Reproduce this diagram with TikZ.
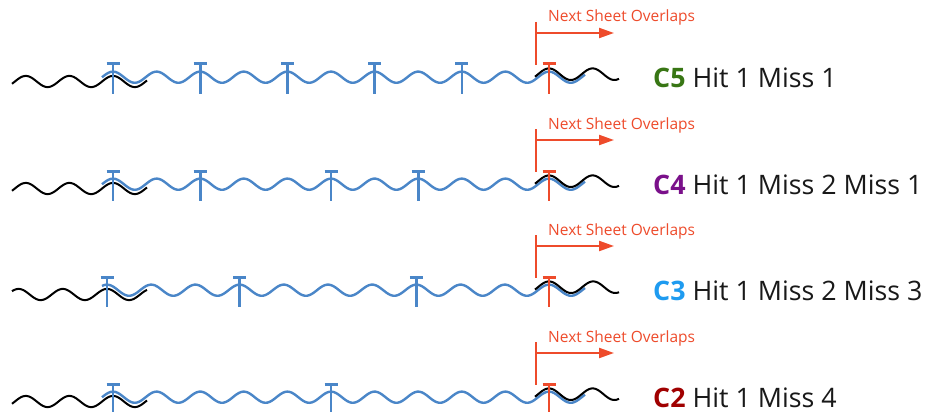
\documentclass[tikz,border=0pt]{standalone}
\usepackage{fontspec}
\setmainfont{Open Sans}
\usetikzlibrary{arrows.meta}
\definecolor{wblue}{RGB}{74,134,200}
\definecolor{mred}{RGB}{238,75,43}
\definecolor{cfive}{RGB}{56,118,20}
\definecolor{cfour}{RGB}{122,16,138}
\definecolor{cthree}{RGB}{30,155,240}
\definecolor{ctwo}{RGB}{160,0,0}
\definecolor{ltext}{RGB}{25,25,25}
\tikzset{
  bluewave/.style={wblue,line width=2.4pt},
  blackwave/.style={black,line width=2pt},
  redline/.style={mred,line width=2.2pt},
  nxt/.style={mred,font=\fontsize{15.5}{15.5}\selectfont,inner sep=0pt,anchor=base west},
  lbl/.style={ltext,font=\fontsize{26.8}{26.8}\selectfont,inner sep=0pt,anchor=base west},
  tee/.pic={
    \draw[line width=3pt] (-6.5,0) -- (6.5,0);
    \draw[line width=2.6pt] (0,0) -- (0,30);
  }
}
% #1 row id, #2 y offset, #3 period, #4 list of k, #5 code colour, #6 code, #7 rest of label
\newcommand\sheetrow[7]{%
  \begin{scope}[shift={(0,#2)}]
    \draw[bluewave] plot[domain=102:585,samples=220,smooth] (\x,{77.2-5.6*cos((\x-549)/#3*360)});
    \draw[blackwave] plot[domain=12:147,samples=80,smooth] (\x,{81.5-5.6*cos((\x-549)/#3*360)});
    \draw[blackwave] plot[domain=535:619,samples=60,smooth] (\x,{74.2-5.8*cos((\x-549)/#3*360)});
    \foreach \k in {#4} { \pic[wblue] at ({549-\k*#3},64) {tee}; }
    \pic[mred] at (549,64) {tee};
    \coordinate (rt#1) at (536,22);
    \coordinate (rb#1) at (536,65);
    \coordinate (as#1) at (536,33);
    \coordinate (ae#1) at (614,33);
    \draw[redline] (rt#1) -- (rb#1);
    \draw[redline,-{Triangle[length=15pt,width=10pt]}] (as#1) -- (ae#1);
    \node[nxt] (next#1) at (548,22) {Next Sheet Overlaps};
    \node[lbl] (label#1) at (653,87) {\textbf{\color{#5}#6} #7};
  \end{scope}}
\begin{document}
\begin{tikzpicture}[x=1pt,y=-1pt]
\useasboundingbox[fill=white] (0,0) rectangle (926,412);
\sheetrow{a}{0}{43.6}{10,8,6,4,2}{cfive}{C5}{Hit 1 Miss 1}
\sheetrow{b}{107}{43.6}{10,8,5,3}{cfour}{C4}{Hit 1 Miss 2 Miss 1}
\sheetrow{c}{213}{44.2}{10,7,3}{cthree}{C3}{Hit 1 Miss 2 Miss 3}
\sheetrow{d}{320}{43.6}{10,5}{ctwo}{C2}{Hit 1 Miss 4}
\end{tikzpicture}
\end{document}
